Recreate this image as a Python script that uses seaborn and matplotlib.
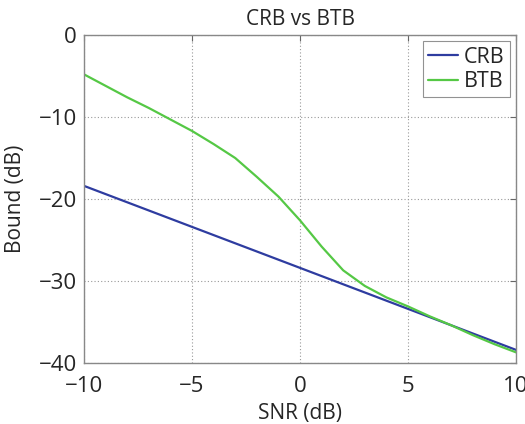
import matplotlib
matplotlib.use("Agg")
import matplotlib.pyplot as plt
import seaborn as sns
import pandas as pd

snr = [-10, -9, -8, -7, -6, -5, -4, -3, -2, -1, 0, 1, 2, 3, 4, 5, 6, 7, 8, 9, 10]
crb = [-18.4, -19.4, -20.4, -21.4, -22.4, -23.4, -24.4, -25.4, -26.4, -27.4, -28.4,
       -29.4, -30.4, -31.4, -32.4, -33.4, -34.4, -35.4, -36.4, -37.4, -38.4]
btb = [-4.8, -6.2, -7.6, -8.9, -10.3, -11.7, -13.3, -15.0, -17.3, -19.7, -22.6,
       -25.8, -28.7, -30.6, -32.0, -33.1, -34.3, -35.4, -36.6, -37.7, -38.7]
series_names = ["CRB", "BTB"]
xticks = [-10, -5, 0, 5, 10]
yticks = [-40, -30, -20, -10, 0]

df = pd.DataFrame({
    "SNR": snr * 2,
    "Bound": crb + btb,
    "Series": [series_names[0]] * len(snr) + [series_names[1]] * len(snr),
})

sns.set_style("white")
plt.rcParams["font.family"] = ["Open Sans", "DejaVu Sans"]

fig = plt.figure(figsize=(5.25, 4.24), dpi=100)
ax = fig.add_axes([84 / 525, 1 - 363 / 424, (516 - 84) / 525, (363 - 35) / 424])

palette = {"CRB": "#2e3ca0", "BTB": "#55c845"}
sns.lineplot(data=df, x="SNR", y="Bound", hue="Series", palette=palette,
             linewidth=1.6, ax=ax, legend=True)

ax.set_xlim(-10, 10)
ax.set_ylim(-40, 0)
ax.set_xticks(xticks)
ax.set_yticks(yticks)
ax.set_xticklabels(["\u2212" + str(abs(t)) if t < 0 else str(t) for t in xticks])
ax.set_yticklabels(["\u2212" + str(abs(t)) if t < 0 else str(t) for t in yticks])
ax.tick_params(direction="in", length=4, width=0.8, color="#666666",
               labelsize=16, top=True, right=True)
ax.tick_params(axis="x", pad=9)
ax.tick_params(axis="y", pad=5)
ax.grid(True, linestyle=(0, (1, 2)), color="#999999", linewidth=0.8)
for s in ax.spines.values():
    s.set_color("#888888")
    s.set_linewidth(1.0)

ax.set_xlabel("SNR (dB)", fontsize=15, labelpad=5)
ax.set_ylabel("Bound (dB)", fontsize=15, labelpad=9)
ax.set_title("CRB vs BTB", fontsize=15, pad=7)

leg = ax.legend(loc="upper right", fontsize=15.5, frameon=True, fancybox=False,
                handlelength=1.4, handletextpad=0.25, borderpad=0.25,
                labelspacing=0.15, borderaxespad=0.3)
leg.get_frame().set_edgecolor("#777777")
leg.get_frame().set_linewidth(0.8)

fig.savefig("out.png", dpi=100)
